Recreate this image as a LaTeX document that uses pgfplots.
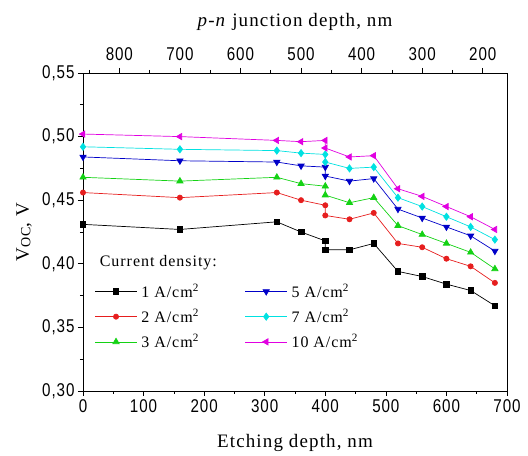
\documentclass[border=0pt]{standalone}
\usepackage{pgfplots}
\pgfplotsset{compat=1.18}
\usepackage{fontspec}
\setmainfont{Liberation Serif}[LetterSpace=6]
\newfontfamily\tickfont{Liberation Sans}[FakeStretch=0.82, LetterSpace=5]
\definecolor{cred}{RGB}{230,30,30}
\definecolor{cgreen}{RGB}{20,210,20}
\definecolor{cblue}{RGB}{0,0,200}
\definecolor{ccyan}{RGB}{0,225,225}
\definecolor{cmag}{RGB}{225,0,225}
\begin{document}
\begin{tikzpicture}
\begin{axis}[
  name=main,
  scale only axis, width=424pt, height=318pt,
  xmin=0, xmax=700, ymin=0.30, ymax=0.55,
  xtick={0,100,200,300,400,500,600,700},
  minor xtick={50,150,250,350,450,550,650},
  ytick={0.30,0.35,0.40,0.45,0.50,0.55},
  minor ytick={0.325,0.375,0.425,0.475,0.525},
  scaled y ticks=false,
  tick align=outside, xtick pos=bottom, ytick pos=left,
  major tick length=5pt, minor tick length=3pt,
  tick style={black, line width=0.6pt},
  axis line style={line width=0.8pt},
  tick label style={font=\tickfont\fontsize{18.5}{20}\selectfont},
  /pgf/number format/assume math mode=true,
  y tick label style={/pgf/number format/.cd, fixed, fixed zerofill, precision=2, use comma},
  xlabel={Etching depth, nm},
  xlabel style={at={(axis description cs:0.5,0)}, anchor=base, yshift=-57pt},
  ylabel={V\raisebox{-0.15ex}{\fontsize{14}{15}\selectfont OC}, V},
  ylabel style={at={(axis description cs:0,0.5)}, anchor=base, yshift=54pt},
  label style={font=\fontsize{19}{22}\selectfont},
  legend style={draw=none, fill=none, at={(axis cs:14,0.3875)}, anchor=north west,
    font=\fontsize{16}{18}\selectfont, row sep=6pt, column sep=2pt,
    cells={anchor=west},
    /tikz/every even column/.append style={column sep=44pt}},
  legend cell align=left,
  legend columns=2,
  legend image code/.code={\draw[mark repeat=2,mark phase=2,#1] plot coordinates {(0pt,0pt) (21pt,0pt) (42pt,0pt)};},
  every axis plot/.append style={line width=0.7pt},
]
\addplot[black, mark=square*, mark size=2.8pt] coordinates {
(0,0.431) (160,0.427) (320,0.433) (360,0.425) (400,0.418) (400,0.411) (440,0.411) (480,0.416) (520,0.394) (560,0.390) (600,0.384) (640,0.379) (680,0.367)};
\addlegendentry{1 A/cm\textsuperscript{2}}
\addplot[cblue, mark=triangle*, mark options={rotate=180}, mark size=3.6pt] coordinates {
(0,0.484) (160,0.481) (320,0.480) (360,0.477) (400,0.476) (400,0.469) (440,0.465) (480,0.467) (520,0.443) (560,0.436) (600,0.429) (640,0.422) (680,0.410)};
\addlegendentry{5 A/cm\textsuperscript{2}}
\addplot[cred, mark=*, mark size=2.6pt] coordinates {
(0,0.456) (160,0.452) (320,0.456) (360,0.450) (400,0.446) (400,0.438) (440,0.435) (480,0.440) (520,0.416) (560,0.413) (600,0.404) (640,0.398) (680,0.385)};
\addlegendentry{2 A/cm\textsuperscript{2}}
\addplot[ccyan, mark=diamond*, mark size=3.6pt] coordinates {
(0,0.492) (160,0.490) (320,0.489) (360,0.487) (400,0.486) (400,0.480) (440,0.475) (480,0.476) (520,0.452) (560,0.445) (600,0.437) (640,0.429) (680,0.419)};
\addlegendentry{7 A/cm\textsuperscript{2}}
\addplot[cgreen, mark=triangle*, mark size=3.6pt] coordinates {
(0,0.468) (160,0.465) (320,0.468) (360,0.463) (400,0.461) (400,0.454) (440,0.448) (480,0.452) (520,0.430) (560,0.423) (600,0.416) (640,0.409) (680,0.396)};
\addlegendentry{3 A/cm\textsuperscript{2}}
\addplot[cmag, mark=triangle*, mark options={rotate=90}, mark size=3.6pt] coordinates {
(0,0.502) (160,0.500) (320,0.497) (360,0.496) (400,0.497) (400,0.491) (440,0.484) (480,0.485) (520,0.459) (560,0.453) (600,0.445) (640,0.437) (680,0.427)};
\addlegendentry{10 A/cm\textsuperscript{2}}
\node[anchor=west, font=\fontsize{16}{18}\selectfont] at (axis cs:22,0.4005) {Current density:};
\end{axis}
\begin{axis}[
  scale only axis, width=424pt, height=318pt,
  xmin=160, xmax=860, x dir=reverse, ymin=0, ymax=1,
  axis x line*=top, axis y line=none,
  xtick={200,300,400,500,600,700,800},
  minor xtick={250,350,450,550,650,750,850},
  tick align=outside,
  major tick length=5pt, minor tick length=3pt,
  tick style={black, line width=0.6pt},
  axis line style={line width=0.8pt},
  tick label style={font=\tickfont\fontsize{18.5}{20}\selectfont},
  xticklabel style={yshift=4pt},
  /pgf/number format/assume math mode=true,
  xlabel={\textit{p-n} junction depth, nm},
  xlabel style={at={(axis description cs:0.5,1)}, anchor=base, yshift=46pt},
  label style={font=\fontsize{19}{22}\selectfont},
]
\addplot[draw=none] coordinates {(500,0.5)};
\end{axis}
\path ([xshift=-83pt,yshift=-64pt]main.south west) rectangle ([xshift=21pt,yshift=73pt]main.north east);
\end{tikzpicture}
\end{document}
